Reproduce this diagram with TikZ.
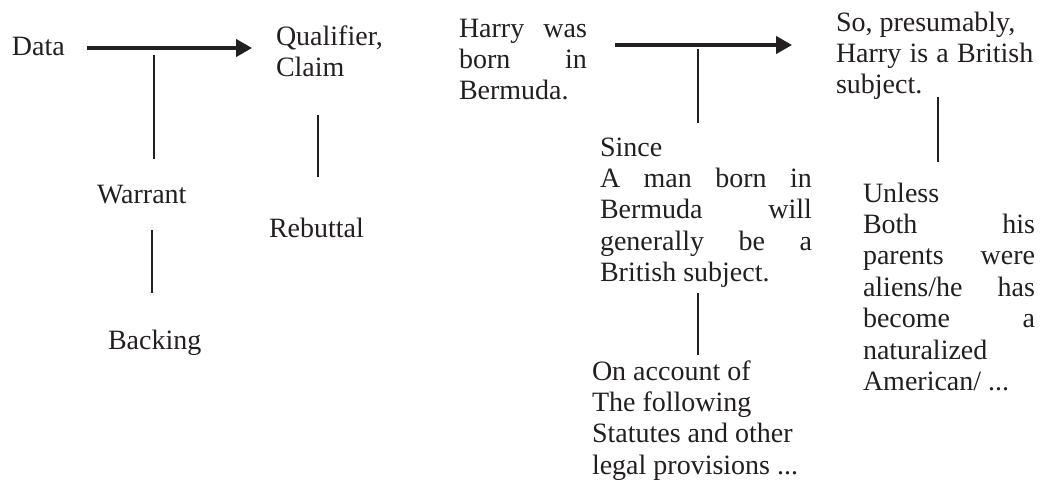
\documentclass[tikz,border=0pt]{standalone}
\usepackage{fontspec}
\setmainfont{Liberation Serif}
\usetikzlibrary{arrows.meta}
\definecolor{ink}{RGB}{35,31,32}
\begin{document}
\begin{tikzpicture}[x=0.75pt,y=-0.75pt,
  every node/.style={inner sep=0pt, outer sep=0pt, text=ink, font=\fontsize{21}{23.6}\selectfont},
  lbl/.style={anchor=base west},
  blk/.style={anchor=north west, align=justify},
  lblk/.style={anchor=north west, align=left},
  arr/.style={draw=ink, line width=2.5pt, -{Triangle[length=12pt,width=13pt]}},
  link/.style={draw=ink, line width=1.5pt}]
\useasboundingbox (0,0) rectangle (1048,482);

% ---------- left: generic model ----------
\node[lbl] (data) at (12,55) {Data};
\node[lblk] (claim) at (276,23) {\strut Qualifier,\\Claim};
\node[lbl] (warrant) at (97,203) {Warrant};
\node[lbl] (backing) at (108,349) {Backing};
\node[lbl] (rebuttal) at (269,237) {Rebuttal};

\coordinate (d1) at (87,48);   \coordinate (c1) at (252,48);
\coordinate (w1) at (154,55);  \coordinate (w2) at (154,159);
\coordinate (b1) at (152,230); \coordinate (b2) at (152,293);
\coordinate (r1) at (318,115); \coordinate (r2) at (318,177);
\draw[arr] (d1) -- (c1);
\draw[link] (w1) -- (w2);
\draw[link] (b1) -- (b2);
\draw[link] (r1) -- (r2);

% ---------- right: example ----------
\node[blk, text width=96pt] (hdata) at (459,15) {\strut Harry\hfill was\\born\hfill in\\Bermuda.};
\node[blk, text width=148pt] (hclaim) at (836,9) {\strut So, presumably,\\Harry\hfill is\hfill a\hfill British\\subject.};
\node[blk, text width=159pt] (hwarrant) at (600,134) {\strut Since\\A\hfill man\hfill born\hfill in\\Bermuda\hfill will\\generally\hfill be\hfill a\\British subject.};
\node[lblk] (hbacking) at (592,358) {\strut On account of\\The following\\Statutes and other\\legal provisions ...};
\node[blk, text width=129pt] (hrebuttal) at (863,180) {\strut Unless\\Both\hfill his\\parents\hfill were\\aliens/he\hfill has\\become\hfill a\\naturalized\\American/ ...};

\coordinate (hd1) at (615,45);  \coordinate (hc1) at (792,45);
\coordinate (hw1) at (698,49);  \coordinate (hw2) at (698,123);
\coordinate (hb1) at (698,293); \coordinate (hb2) at (698,355);
\coordinate (hr1) at (938,97);  \coordinate (hr2) at (938,162);
\draw[arr] (hd1) -- (hc1);
\draw[link] (hw1) -- (hw2);
\draw[link] (hb1) -- (hb2);
\draw[link] (hr1) -- (hr2);
\end{tikzpicture}
\end{document}
